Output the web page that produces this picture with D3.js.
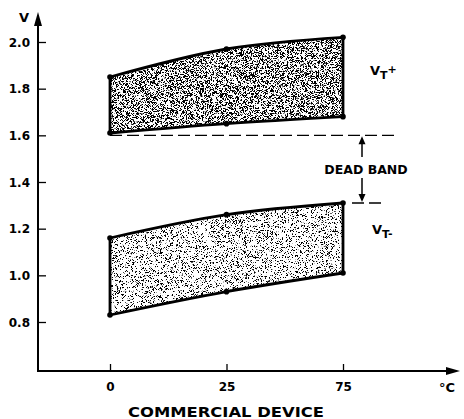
<!DOCTYPE html>
<html>
<head>
<meta charset="utf-8">
<script src="https://cdn.jsdelivr.net/npm/d3@7"></script>
<style>
  body { margin: 0; background: #fff; }
  svg text { font-family: "DejaVu Sans", "Liberation Sans", Arial, sans-serif; font-weight: bold; fill: #000; }
</style>
</head>
<body>
<div class="svg"></div>
<script>
'use strict';

// data
var temps = ['0', '25', '75'];
var upperTop = [1.85, 1.97, 2.02];
var upperBottom = [1.61, 1.65, 1.68];
var lowerTop = [1.16, 1.26, 1.31];
var lowerBottom = [0.83, 0.93, 1.01];
var yTicks = [0.8, 1.0, 1.2, 1.4, 1.6, 1.8, 2.0];
var deadBandHigh = 1.6;
var deadBandLow = 1.31;

var width = 464, height = 419;
var axisX = 38, axisY = 371;

var x = d3.scalePoint().domain(temps).range([110, 343]);
var y = d3.scaleLinear().domain([0.8, 2.0]).range([322, 42]);

var svg = d3.select('div.svg').append('svg')
    .attr('width', width)
    .attr('height', height);

var defs = svg.append('defs');

// speckled fill like the printed screen tone
function stipple(id, seed, freq, gain, offset) {
    var f = defs.append('filter')
        .attr('id', id)
        .attr('filterUnits', 'userSpaceOnUse')
        .attr('x', 0).attr('y', 0)
        .attr('width', width).attr('height', height);
    f.append('feTurbulence')
        .attr('type', 'fractalNoise')
        .attr('baseFrequency', freq)
        .attr('numOctaves', 2)
        .attr('seed', seed)
        .attr('result', 'noise');
    f.append('feColorMatrix')
        .attr('in', 'noise')
        .attr('type', 'matrix')
        .attr('values', '0 0 0 0 0  0 0 0 0 0  0 0 0 0 0  ' + gain + ' 0 0 0 ' + offset)
        .attr('result', 'dots');
    f.append('feComposite')
        .attr('in', 'dots')
        .attr('in2', 'SourceGraphic')
        .attr('operator', 'in');
}
stipple('stipUpper', 3, 2.2, 18, -9.0);
stipple('stipLower', 7, 2.2, 18, -10.4);

function band(top, bottom, filterId) {
    var pts = temps.map(function (t, i) {
        return { t: t, top: top[i], bottom: bottom[i] };
    });
    var area = d3.area()
        .x(function (d) { return x(d.t); })
        .y0(function (d) { return y(d.bottom); })
        .y1(function (d) { return y(d.top); })
        .curve(d3.curveMonotoneX);
    svg.append('path')
        .attr('d', area(pts))
        .attr('fill', '#000')
        .attr('filter', 'url(#' + filterId + ')');

    var line = d3.line()
        .x(function (d) { return x(d.t); })
        .y(function (d) { return y(d.v); })
        .curve(d3.curveMonotoneX);
    var g = svg.append('g').attr('fill', 'none').attr('stroke', '#000').attr('stroke-width', 2.8);
    g.append('path').attr('d', line(pts.map(function (d) { return { t: d.t, v: d.top }; })));
    g.append('path').attr('d', line(pts.map(function (d) { return { t: d.t, v: d.bottom }; })));
    [0, temps.length - 1].forEach(function (i) {
        g.append('line')
            .attr('x1', x(temps[i])).attr('x2', x(temps[i]))
            .attr('y1', y(top[i])).attr('y2', y(bottom[i]));
    });
    svg.selectAll(null)
        .data(pts.reduce(function (a, d) { return a.concat([{ t: d.t, v: d.top }, { t: d.t, v: d.bottom }]); }, []))
        .enter().append('circle')
        .attr('cx', function (d) { return x(d.t); })
        .attr('cy', function (d) { return y(d.v); })
        .attr('r', 2.8)
        .attr('fill', '#000');
}

band(upperTop, upperBottom, 'stipUpper');
band(lowerTop, lowerBottom, 'stipLower');

// axes
var ax = svg.append('g').attr('stroke', '#000').attr('stroke-width', 2);
ax.append('line').attr('x1', axisX).attr('x2', axisX).attr('y1', axisY + 1).attr('y2', 22);
ax.append('line').attr('x1', axisX - 1).attr('x2', 450).attr('y1', axisY).attr('y2', axisY);
svg.append('path').attr('d', 'M' + axisX + ',12 L' + (axisX - 4) + ',26 L' + (axisX + 4) + ',26 Z').attr('fill', '#000');
svg.append('path').attr('d', 'M460,' + axisY + ' L446,' + (axisY - 4) + ' L446,' + (axisY + 4) + ' Z').attr('fill', '#000');

var yAxis = d3.axisRight(y).tickValues(yTicks).tickSize(8).tickFormat(d3.format('.1f'));
var yAx = svg.append('g').attr('transform', 'translate(' + axisX + ',0)').call(yAxis);
yAx.select('.domain').remove();
yAx.selectAll('.tick line').attr('stroke', '#000').attr('stroke-width', 1.3);
yAx.selectAll('.tick text')
    .attr('x', -8).attr('dy', '0.36em')
    .attr('text-anchor', 'end')
    .style('font-size', '12px');

var xAxis = d3.axisTop(x).tickSize(7).tickFormat(function (d) { return d; });
var xAx = svg.append('g').attr('transform', 'translate(0,' + axisY + ')').call(xAxis);
xAx.select('.domain').remove();
xAx.selectAll('.tick line').attr('stroke', '#000').attr('stroke-width', 1.3);
xAx.selectAll('.tick text')
    .attr('y', 16).attr('dy', '0.36em')
    .style('font-size', '12px');

svg.append('text').attr('x', 24).attr('y', 22).attr('text-anchor', 'middle').style('font-size', '13px').text('V');
svg.append('text').attr('x', 447).attr('y', 392).attr('text-anchor', 'middle').style('font-size', '13px').text('°C');
svg.append('text').attr('x', 226).attr('y', 417).attr('text-anchor', 'middle').style('font-size', '14px')
    .attr('textLength', 196).attr('lengthAdjust', 'spacingAndGlyphs').text('COMMERCIAL DEVICE');

// dead band markers
var dash = svg.append('g').attr('stroke', '#000').attr('stroke-width', 1.4).attr('stroke-dasharray', '12,5');
dash.append('line').attr('x1', x('0')).attr('x2', 396).attr('y1', y(deadBandHigh)).attr('y2', y(deadBandHigh));
dash.append('line').attr('x1', 352).attr('x2', 386).attr('y1', y(deadBandLow)).attr('y2', y(deadBandLow));

var arrX = 362;
var arr = svg.append('g').attr('stroke', '#000').attr('stroke-width', 1.5);
arr.append('line').attr('x1', arrX).attr('x2', arrX).attr('y1', 157).attr('y2', y(deadBandHigh) + 6);
arr.append('line').attr('x1', arrX).attr('x2', arrX).attr('y1', 178).attr('y2', y(deadBandLow) - 6);
svg.append('path').attr('d', 'M' + arrX + ',' + (y(deadBandHigh) + 1) + ' l-3.5,8 l7,0 Z').attr('fill', '#000');
svg.append('path').attr('d', 'M' + arrX + ',' + (y(deadBandLow) - 1) + ' l-3.5,-8 l7,0 Z').attr('fill', '#000');
svg.append('text').attr('x', 366).attr('y', 174).attr('text-anchor', 'middle').style('font-size', '12.5px').text('DEAD BAND');

// threshold labels
var tp = svg.append('text').attr('x', 370).attr('y', 75).style('font-size', '13px');
tp.append('tspan').text('V');
tp.append('tspan').attr('dy', 4).style('font-size', '11px').text('T');
tp.append('tspan').attr('dy', -6).style('font-size', '11px').text('+');
var tm = svg.append('text').attr('x', 372).attr('y', 234).style('font-size', '13px');
tm.append('tspan').text('V');
tm.append('tspan').attr('dy', 4).style('font-size', '11px').text('T');
tm.append('tspan').attr('dy', -1).style('font-size', '11px').text('-');
</script>
</body>
</html>
